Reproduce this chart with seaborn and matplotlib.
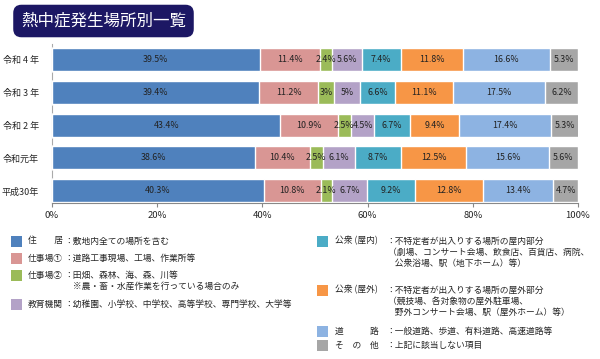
import numpy as np
import matplotlib.pyplot as plt
import matplotlib.patches as mpatches
import seaborn as sns

# data (percent share per year)
years = ['令和 4 年', '令和 3 年', '令和 2 年', '令和元年', '平成30年']
jukyo = [39.5, 39.4, 43.4, 38.6, 40.3]
shigoto1 = [11.4, 11.2, 10.9, 10.4, 10.8]
shigoto2 = [2.4, 3, 2.5, 2.5, 2.1]
kyoiku = [5.6, 5, 4.5, 6.1, 6.7]
koshu_in = [7.4, 6.6, 6.7, 8.7, 9.2]
koshu_out = [11.8, 11.1, 9.4, 12.5, 12.8]
doro = [16.6, 17.5, 17.4, 15.6, 13.4]
sonota = [5.3, 6.2, 5.3, 5.6, 4.7]
x_ticks = [0, 20, 40, 60, 80, 100]

series = [jukyo, shigoto1, shigoto2, kyoiku, koshu_in, koshu_out, doro, sonota]
colors = ['#4f81bd', '#d99694', '#9bbb59', '#b3a2c7',
          '#4bacc6', '#f79646', '#8db3e2', '#a6a6a6']

sns.set_style('white')
plt.rcParams['font.family'] = ['Noto Sans CJK JP', 'DejaVu Sans']

W, H = 600, 359
fig = plt.figure(figsize=(6, 3.59), dpi=100)


def fx(x):
    return x / W


def fy(y):
    return 1 - y / H


ax = fig.add_axes([fx(52), fy(203), (578 - 52) / W, (203 - 44) / H])

vals = np.array(series)
cum = np.cumsum(vals, axis=0)

# stacked bars: draw cumulative totals from the outermost segment inwards
for k in range(len(series) - 1, -1, -1):
    sns.barplot(x=cum[k], y=years, orient='h', color=colors[k], saturation=1,
                width=0.7, edgecolor='white', linewidth=1, ax=ax, zorder=2)

for k in range(len(series)):
    for i in range(len(years)):
        v = vals[k, i]
        ax.text(cum[k, i] - v / 2, i, f'{v:g}%', ha='center', va='center',
                fontsize=6.4, color='#222222', zorder=3)

ax.set_xlim(0, 100)
ax.set_ylim(4.37, -0.47)
ax.set_xticks(x_ticks)
ax.set_xticklabels([f'{t}%' for t in x_ticks], fontsize=6.8)
ax.tick_params(axis='x', bottom=True, length=3, color='#888888', pad=3)
ax.tick_params(axis='y', left=False, labelsize=6.5, pad=6)
ax.set_xlabel('')
ax.set_ylabel('')
for s in ['top', 'right']:
    ax.spines[s].set_visible(False)
ax.spines['left'].set_color('#aaaaaa')
ax.spines['left'].set_zorder(1)
ax.spines['bottom'].set_color('#888888')

# title box
fig.text(fx(21), fy(21), '熱中症発生場所別一覧', fontsize=11.9, color='white',
         va='center', ha='left',
         bbox=dict(boxstyle='round,pad=0.47,rounding_size=0.5',
                   fc='#1c1764', ec='none'))

# legend (custom layout)
fs = 6.3
left_items = [
    (241, colors[0], '住　　居', ['：敷地内全ての場所を含む']),
    (258, colors[1], '仕事場①', ['：道路工事現場、工場、作業所等']),
    (275, colors[2], '仕事場②', ['：田畑、森林、海、森、川等',
                                '　※農・畜・水産作業を行っている場合のみ']),
    (304, colors[3], '教育機関', ['：幼稚園、小学校、中学校、高等学校、専門学校、大学等']),
]
right_items = [
    (241, colors[4], '公衆 (屋内)', ['：不特定者が出入りする場所の屋内部分',
                                  ' （劇場、コンサート会場、飲食店、百貨店、病院、',
                                  '　公衆浴場、駅（地下ホーム）等）']),
    (290, colors[5], '公衆 (屋外)', ['：不特定者が出入りする場所の屋外部分',
                                  ' （競技場、各対象物の屋外駐車場、',
                                  '　野外コンサート会場、駅（屋外ホーム）等）']),
    (331, colors[6], '道　　　路', ['：一般道路、歩道、有料道路、高速道路等']),
    (345, colors[7], 'そ　の　他', ['：上記に該当しない項目']),
]


def draw_items(items, sq_x, lab_x, desc_x, step):
    for y, c, lab, lines in items:
        fig.patches.append(mpatches.Rectangle((fx(sq_x), fy(y + 5.5)), 11 / W, 11 / H,
                                              transform=fig.transFigure, fc=c, ec='none'))
        fig.text(fx(lab_x), fy(y), lab, fontsize=fs, va='center', ha='left')
        for j, line in enumerate(lines):
            fig.text(fx(desc_x), fy(y + j * step), line, fontsize=fs, va='center', ha='left')


draw_items(left_items, 11, 28, 64, 11.5)
draw_items(right_items, 317, 335, 386, 11)

fig.savefig('out.png', dpi=100)
